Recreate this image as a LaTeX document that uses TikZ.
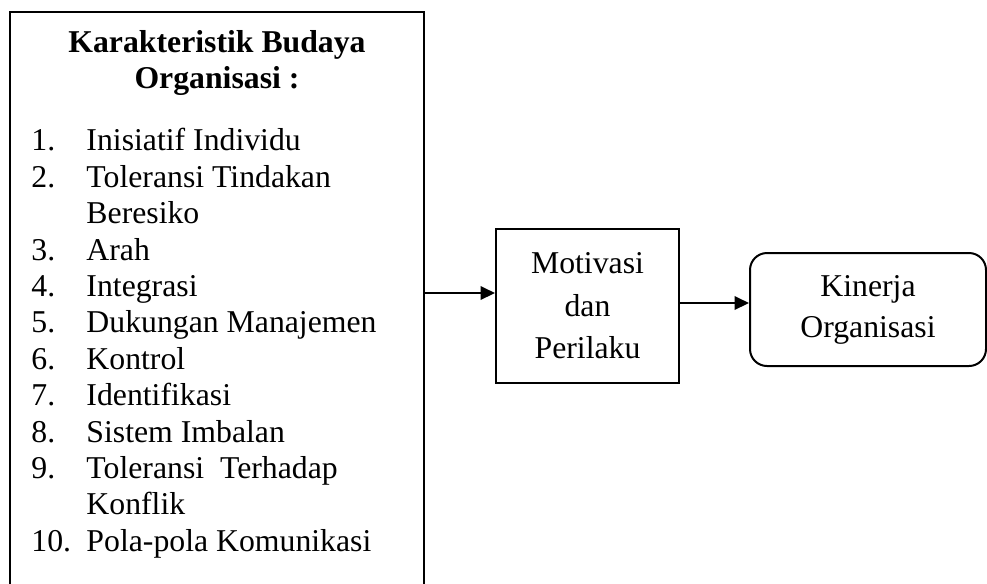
\documentclass[tikz,border=0pt]{standalone}
\usepackage{fontspec}
\setmainfont{Liberation Serif}
\usetikzlibrary{positioning,arrows.meta}
\newcommand{\nomor}[1]{\makebox[22pt][l]{#1}}

\begin{document}
\begin{tikzpicture}[x=0.4pt, y=-0.4pt,
  box/.style={draw, line width=0.8pt, inner sep=0pt, align=center},
  txt/.style={font=\fontsize{12.7}{14.56}\selectfont, inner sep=0pt},
  judul/.style={font=\bfseries\fontsize{12.7}{14.4}\selectfont, inner sep=0pt, align=center},
  arr/.style={-{Triangle[length=5.8pt, width=5.4pt]}, line width=0.8pt}]
\useasboundingbox (0,0) rectangle (987,583);
\node[box, minimum width=165.6pt, minimum height=232pt] (budaya) at (217,302) {};
\node[judul, below=7.4pt of budaya.north] (karakter) {Karakteristik Budaya\\Organisasi :};
\node[txt, align=left, below right=46.8pt and 8.8pt of budaya.north west] (daftar)
  {\nomor{1.}Inisiatif Individu\\
   \nomor{2.}Toleransi Tindakan\\
   \nomor{}Beresiko\\
   \nomor{3.}Arah\\
   \nomor{4.}Integrasi\\
   \nomor{5.}Dukungan Manajemen\\
   \nomor{6.}Kontrol\\
   \nomor{7.}Identifikasi\\
   \nomor{8.}Sistem Imbalan\\
   \nomor{9.}Toleransi~~Terhadap\\
   \nomor{}Konflik\\
   \nomor{10.}Pola-pola Komunikasi};
\node[box, minimum width=73.2pt, minimum height=61.6pt, font=\fontsize{12.7}{17}\selectfont] (motivasi) at (587.5,306)
  {Motivasi\\dan\\Perilaku};
\node[box, rounded corners=6.8pt, minimum width=94.4pt, minimum height=45.2pt, font=\fontsize{12.7}{16.4}\selectfont] (kinerja) at (868,309.5)
  {Kinerja\\Organisasi};
\coordinate (masuk) at ([yshift=5.2pt]motivasi.west);
\coordinate (keluar) at ([yshift=1.2pt]motivasi.east);
\draw[arr] (budaya.east |- masuk) -- (masuk);
\draw[arr] (keluar) -- (keluar -| kinerja.west);
\end{tikzpicture}
\end{document}
